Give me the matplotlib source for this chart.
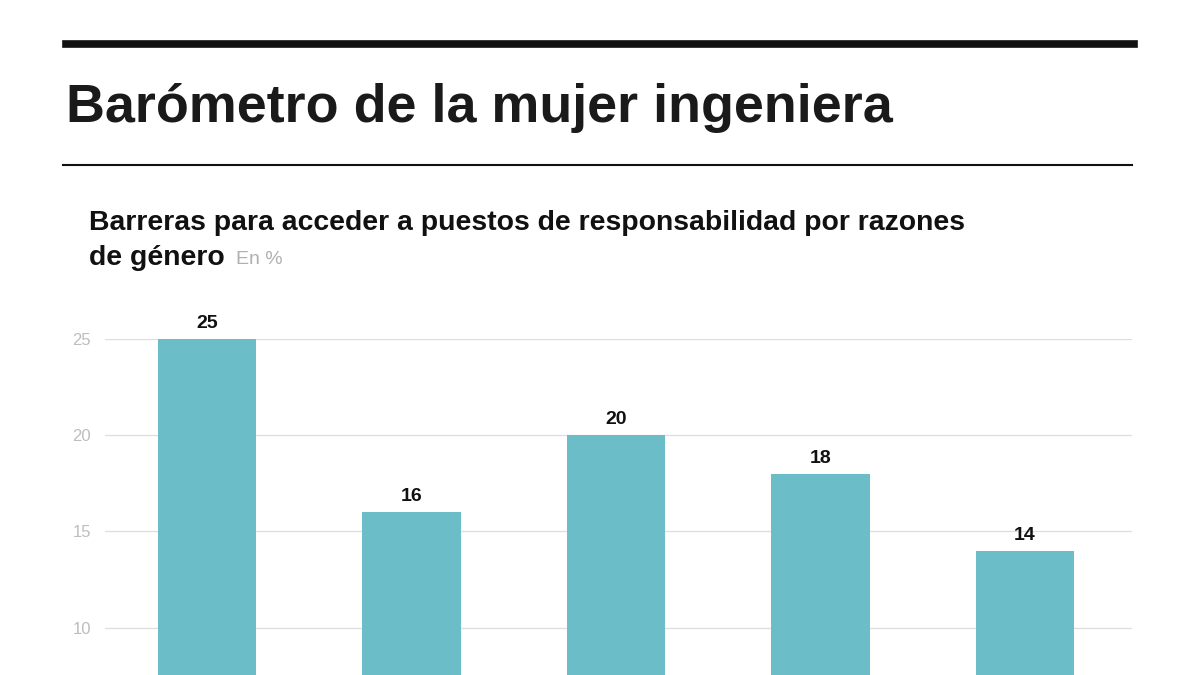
import matplotlib.pyplot as plt
from matplotlib.lines import Line2D

plt.rcParams['font.family'] = ['Liberation Sans', 'DejaVu Sans']

# data (category names are cut off in the reference)
positions = [0, 1, 2, 3, 4]
values = [25, 16, 20, 18, 14]
yticks = [10, 15, 20, 25]

title = 'Barómetro de la mujer ingeniera'
subtitle_1 = 'Barreras para acceder a puestos de responsabilidad por razones'
subtitle_2 = 'de género'
unit = 'En %'

bar_color = '#6bbdc7'

fig = plt.figure(figsize=(12, 6.75), dpi=100)
W, H = 1200, 675

# header rules
fig.add_artist(Line2D([66 / W, 1134 / W], [1 - 44 / H, 1 - 44 / H], color='#111111', lw=5.5))
fig.add_artist(Line2D([63 / W, 1132 / W], [1 - 165 / H, 1 - 165 / H], color='#111111', lw=1.5))

fig.text(66 / W, 1 - 122 / H, title, fontsize=38.8, fontweight='bold', color='#1a1a1a', va='baseline')
fig.text(89 / W, 1 - 230 / H, subtitle_1, fontsize=20.4, fontweight='bold', color='#111111', va='baseline')
fig.text(89 / W, 1 - 265 / H, subtitle_2, fontsize=20.4, fontweight='bold', color='#111111', va='baseline')
fig.text(236 / W, 1 - 264 / H, unit, fontsize=14, color='#b0b0b0', va='baseline')

# axes: y=25 sits at px 339, y=0 falls below the image (px ~820)
top = 1 - 339 / H
bottom = 1 - 820 / H
ax = fig.add_axes([105 / W, bottom, (1132 - 105) / W, top - bottom])
ax.bar(positions, values, width=0.48, color=bar_color, zorder=2)
for x, v in zip(positions, values):
    ax.text(x, v + 0.35, str(v), ha='center', va='bottom', fontsize=14,
            fontweight='bold', color='#111111', clip_on=False)

ax.set_xlim(-0.499, 4.523)
ax.set_ylim(0, 25)
ax.set_yticks(yticks)
ax.set_yticklabels([str(t) for t in yticks])
ax.tick_params(axis='y', length=0, pad=10, labelsize=12, labelcolor='#bdbdbd')
ax.tick_params(axis='x', length=0, labelbottom=False)
ax.grid(axis='y', color='#dddddd', lw=0.9, zorder=0)
for s in ax.spines.values():
    s.set_visible(False)

fig.savefig('out.png', dpi=100)
